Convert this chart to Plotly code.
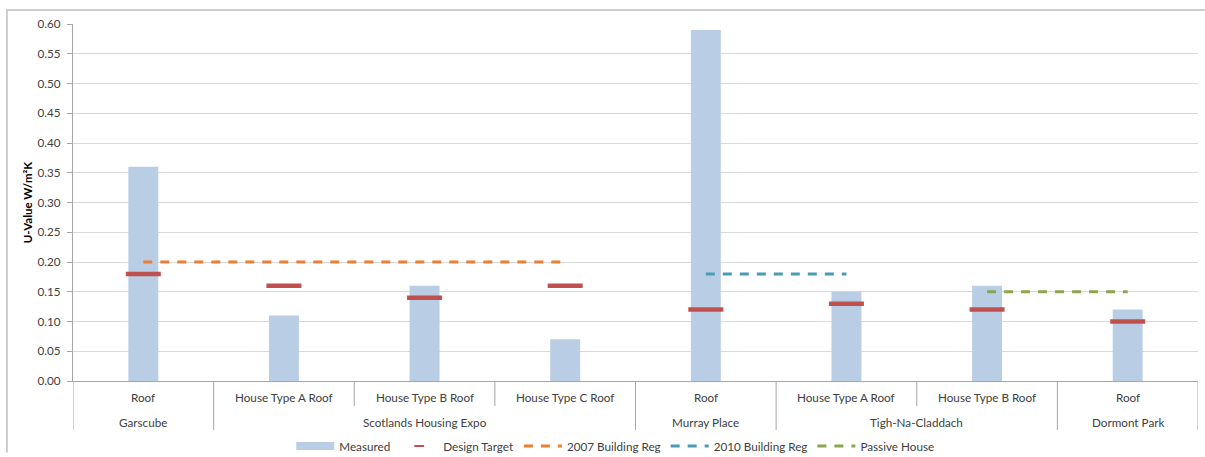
import plotly.graph_objects as go

# Sites (outer level) and elements (inner level)
sites = ["Garscube", "Scotlands Housing Expo", "Scotlands Housing Expo", "Scotlands Housing Expo",
         "Murray Place", "Tigh-Na-Claddach", "Tigh-Na-Claddach", "Dormont Park"]
elements = ["Roof", "House Type A Roof", "House Type B Roof", "House Type C Roof",
            "Roof", "House Type A Roof", "House Type B Roof", "Roof"]

measured = [0.36, 0.11, 0.16, 0.07, 0.59, 0.15, 0.16, 0.12]
design_target = [0.18, 0.16, 0.14, 0.16, 0.12, 0.13, 0.12, 0.10]

# Reference standards, each spanning a subset of the categories
reg2007_idx = [0, 1, 2, 3]
reg2007_val = 0.20
reg2010_idx = [4, 5]
reg2010_val = 0.18
passive_idx = [6, 7]
passive_val = 0.15

y_ticks = [0.00, 0.05, 0.10, 0.15, 0.20, 0.25, 0.30, 0.35, 0.40, 0.45, 0.50, 0.55, 0.60]

FONT = "Lato"
FS = 11.7
TXT = "#404040"
AXC = "#A6A6A6"
BAR_C = "#B9CDE5"
TARGET_C = "#C0504D"

pos = list(range(len(elements)))

# Site groups: (name, first index, last index)
groups = []
for i, s in enumerate(sites):
    if groups and groups[-1][0] == s:
        groups[-1][2] = i
    else:
        groups.append([s, i, i])

fig = go.Figure()

fig.add_trace(go.Bar(
    x=pos, y=measured, name="Measured", showlegend=False,
    marker=dict(color=BAR_C, line=dict(width=0)),
))
# wide legend swatch for the bars
fig.add_trace(go.Scatter(
    x=[None], y=[None], name="Measured", mode="lines",
    line=dict(color=BAR_C, width=8),
))

fig.add_trace(go.Scatter(
    x=pos, y=design_target, name="Design Target", mode="markers", showlegend=False,
    marker=dict(symbol="line-ew", size=25, color=TARGET_C,
                line=dict(color=TARGET_C, width=4.5)),
))
# short legend key for the targets
fig.add_trace(go.Scatter(
    x=[None], y=[None], name="Design Target", mode="markers",
    marker=dict(symbol="line-ew", size=7, color=TARGET_C,
                line=dict(color=TARGET_C, width=2)),
))

for idx, val, name, col in [
    (reg2007_idx, reg2007_val, "2007 Building Reg", "#ED7D31"),
    (reg2010_idx, reg2010_val, "2010 Building Reg", "#4A9BB5"),
    (passive_idx, passive_val, "Passive House", "#8AA54E"),
]:
    fig.add_trace(go.Scatter(
        x=idx, y=[val] * len(idx), name=name, mode="lines",
        line=dict(color=col, width=3, dash="9px,8px"),
    ))

# Two-level category axis: element boundaries (short) and site boundaries (long)
ax_short = -25 / 357
ax_long = -49 / 357
group_edges = {g[1] - 0.5 for g in groups} | {g[2] + 0.5 for g in groups}
for b in [p - 0.5 for p in pos] + [pos[-1] + 0.5]:
    fig.add_shape(type="line", xref="x", yref="paper", x0=b, x1=b, y0=0,
                  y1=ax_long if b in group_edges else ax_short,
                  line=dict(color=AXC, width=1))

for p, e in zip(pos, elements):
    fig.add_annotation(x=p, xref="x", y=-16 / 357, yref="paper", text=e, showarrow=False,
                       yanchor="middle", font=dict(family=FONT, size=FS, color=TXT))
for name, a, b in groups:
    fig.add_annotation(x=(a + b) / 2, xref="x", y=-41 / 357, yref="paper", text=name,
                       showarrow=False, yanchor="middle",
                       font=dict(family=FONT, size=FS, color=TXT))

# Outer chart frame (left and top edges)
fig.add_shape(type="path", xref="paper", yref="paper",
              path="M -0.0587,-0.2 L -0.0587,1.0392 L 1.0065,1.0392",
              line=dict(color="#BFBFBF", width=1.5))

fig.update_layout(
    width=1205, height=457,
    margin=dict(l=73, r=7, t=24, b=76, autoexpand=False),
    paper_bgcolor="white", plot_bgcolor="white",
    font=dict(family=FONT, size=FS, color=TXT),
    bargap=0.787,
    showlegend=True,
    legend=dict(orientation="h", x=0.482, xanchor="center", y=-0.182, yanchor="middle",
                font=dict(family=FONT, size=FS, color=TXT), itemwidth=38,
                bgcolor="rgba(0,0,0,0)"),
    xaxis=dict(
        range=[-0.5, len(pos) - 0.5], showgrid=False, zeroline=False, automargin=False,
        showline=True, linecolor=AXC, linewidth=1,
        tickvals=pos, showticklabels=False, ticks="",
    ),
    yaxis=dict(
        range=[0, 0.6], tickvals=y_ticks, tickformat=".2f", automargin=False,
        showgrid=True, gridcolor="#D9D9D9", gridwidth=1,
        showline=True, linecolor=AXC, linewidth=1,
        ticks="outside", ticklen=5, tickcolor=AXC,
        ticklabelstandoff=4,
        zeroline=False,
        tickfont=dict(family=FONT, size=FS, color=TXT),
        title=dict(text="<b>U-Value W/m²K</b>", font=dict(family=FONT, size=11.5, color="#000000"),
                   standoff=2),
    ),
)

fig.write_html("out.html")
